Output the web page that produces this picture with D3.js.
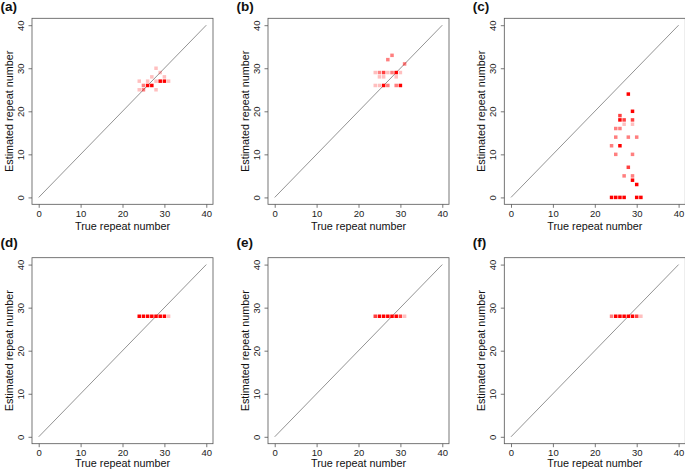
<!DOCTYPE html>
<html><head><meta charset="utf-8">
<script src="https://cdn.jsdelivr.net/npm/d3@7"></script>
<style>body{margin:0;background:#fff}svg{display:block}</style>
</head><body>
<svg id="c" width="685" height="472"></svg>
<script>
// ----- data -----
const panelLabels = ["(a)", "(b)", "(c)", "(d)", "(e)", "(f)"];
const xTicks = [0, 10, 20, 30, 40];
const yTicks = [0, 10, 20, 30, 40];
const xTitle = "True repeat number";
const yTitle = "Estimated repeat number";
const diagonal = [[0, 0], [40, 40]];

// each point: true repeat, estimated repeat, number of overplotted points
const aTrue = [24, 24, 25, 25, 26, 26, 27, 27, 28, 28, 28, 29, 29, 30, 30, 31];
const aEst  = [27, 25, 26, 25, 27, 26, 26, 28, 30, 27, 25, 29, 27, 27, 28, 27];
const aN    = [1, 1, 2, 2, 1, 4, 4, 1, 1, 1, 1, 1, 4, 4, 1, 1];

const bTrue = [28, 27, 31, 24, 25, 26, 27, 28, 29, 30, 25, 26, 29, 24, 25, 26, 27, 29, 30];
const bEst  = [33, 32, 31, 29, 29, 29, 29, 29, 29, 29, 28, 28, 28, 26, 26, 26, 26, 26, 26];
const bN    = [2, 2, 2, 1, 2, 3, 1, 2, 5, 1, 1, 1, 1, 1, 1, 4, 2, 2, 4];

const cTrue = [28, 29, 26, 26, 27, 29, 27, 29, 25, 26, 25, 28, 30, 24, 26, 25, 29, 28, 27, 29, 29, 30, 24, 25, 26, 27, 30, 31];
const cEst  = [24, 20, 19, 18, 18, 18, 17, 17, 16, 16, 14, 14, 14, 12, 12, 10, 10, 7, 5, 5, 4, 3, 0, 0, 0, 0, 0, 0];
const cN    = [4, 4, 3, 4, 3, 3, 1, 1, 2, 2, 2, 2, 2, 2, 4, 2, 2, 3, 2, 2, 4, 4, 4, 4, 4, 4, 4, 4];

const dTrue = [24, 25, 26, 27, 28, 29, 30, 31];
const dEst  = [28, 28, 28, 28, 28, 28, 28, 28];
const dN    = [4, 4, 4, 4, 4, 4, 4, 1];

const eTrue = [24, 25, 26, 27, 28, 29, 30, 31];
const eEst  = [28, 28, 28, 28, 28, 28, 28, 28];
const eN    = [3, 4, 4, 4, 4, 4, 3, 1];

const fTrue = [24, 25, 26, 27, 28, 29, 30, 31];
const fEst  = [28, 28, 28, 28, 28, 28, 28, 28];
const fN    = [2, 4, 4, 4, 4, 4, 3, 1];

const panels = [
  [aTrue, aEst, aN], [bTrue, bEst, bN], [cTrue, cEst, cN],
  [dTrue, dEst, dN], [eTrue, eEst, eN], [fTrue, fEst, fN]
];

// ----- layout -----
const colX = [0, 236, 472.3];
const boxTop = [18.3, 257.7];
const labelY = [10.5, 246.5];
const titleY = [229.5, 466.5];
const boxL = 32, boxW = 181, boxH = 186;
const sq = 3.5;
const font = "'Liberation Sans', Arial, Helvetica, sans-serif";
const intensity = d3.scaleLinear().domain([0, 4]).range([0, 1]).clamp(true);

const svg = d3.select("#c");

panels.forEach((p, i) => {
  const col = i % 3, row = Math.floor(i / 3);
  const ox = colX[col];
  const left = ox + boxL, top = boxTop[row];
  const x = d3.scaleLinear().domain([-1.6, 41.6]).range([left, left + boxW]);
  const y = d3.scaleLinear().domain([-1.6, 41.6]).range([top + boxH, top]);
  const g = svg.append("g");

  g.append("text").attr("x", ox + 0.5).attr("y", labelY[row])
    .attr("font-family", font).attr("font-weight", "bold").attr("font-size", 13.5)
    .attr("fill", "#111").text(panelLabels[i]);

  g.append("path")
    .attr("d", d3.line().x(d => x(d[0])).y(d => y(d[1]))(diagonal))
    .attr("stroke", "#777").attr("stroke-width", 0.8).attr("fill", "none");

  const [xs, ys, ns] = p;
  const pts = xs.map((v, k) => ({x: v, y: ys[k], n: ns[k]}));
  g.selectAll("rect.pt").data(pts).join("rect").attr("class", "pt")
    .attr("x", d => x(d.x) - sq / 2).attr("y", d => y(d.y) - sq / 2)
    .attr("width", sq).attr("height", sq)
    .attr("fill", "#ff0000")
    .attr("fill-opacity", d => intensity(d.n));

  g.append("rect").attr("x", left).attr("y", top).attr("width", boxW).attr("height", boxH)
    .attr("fill", "none").attr("stroke", "#555").attr("stroke-width", 0.8);

  const xa = g.append("g").attr("transform", `translate(0,${top + boxH})`)
    .call(d3.axisBottom(x).tickValues(xTicks).tickSize(3.5).tickSizeOuter(0).tickPadding(2));
  xa.select(".domain").remove();
  xa.selectAll("line").attr("stroke", "#555").attr("stroke-width", 0.8);
  xa.selectAll("text").attr("font-family", font).attr("font-size", 9.5).attr("fill", "#222");

  const ya = g.append("g").attr("transform", `translate(${left},0)`)
    .call(d3.axisLeft(y).tickValues(yTicks).tickSize(3.5).tickSizeOuter(0));
  ya.select(".domain").remove();
  ya.selectAll("line").attr("stroke", "#555").attr("stroke-width", 0.8);
  ya.selectAll("text")
    .attr("font-family", font).attr("font-size", 9.5).attr("fill", "#222")
    .attr("x", null).attr("dy", null)
    .attr("text-anchor", "middle")
    .attr("transform", "translate(-8,0) rotate(-90)");

  g.append("text").attr("x", left + boxW / 2).attr("y", titleY[row])
    .attr("text-anchor", "middle").attr("font-family", font).attr("font-size", 10.8)
    .attr("fill", "#111").text(xTitle);
  g.append("text")
    .attr("transform", `translate(${ox + 12.8},${top + boxH / 2}) rotate(-90)`)
    .attr("text-anchor", "middle").attr("font-family", font).attr("font-size", 10.8)
    .attr("fill", "#111").text(yTitle);
});
</script>
</body></html>
